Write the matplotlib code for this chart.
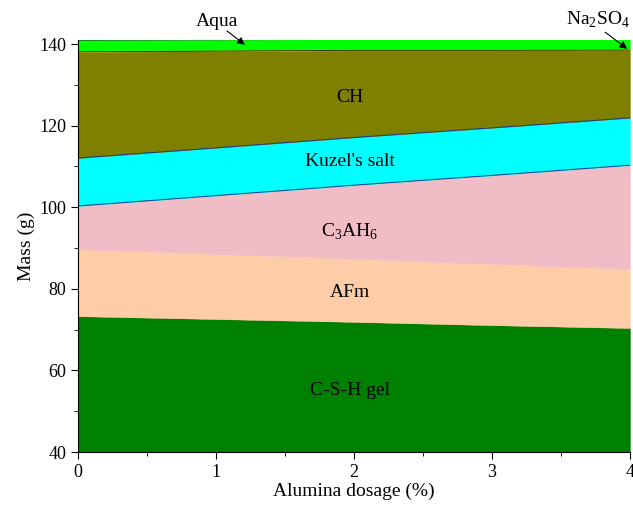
import numpy as np
import matplotlib
matplotlib.use("Agg")
import matplotlib.pyplot as plt
from matplotlib.ticker import MultipleLocator

plt.rcParams['font.family'] = ['Liberation Serif', 'DejaVu Serif']
plt.rcParams['mathtext.fontset'] = 'custom'
plt.rcParams['mathtext.rm'] = 'Liberation Serif'

# alumina dosage (%)
dosage = [0, 1, 2, 3, 4]

# phase masses (g), bottom to top
csh = [73.3, 72.6, 71.9, 71.1, 70.4]
afm = [16.45, 15.95, 15.5, 15.0, 14.5]
c3ah6 = [10.55, 14.3, 18.0, 21.7, 25.4]
kuzel = [11.75, 11.7, 11.7, 11.65, 11.6]
ch = [26.05, 23.7, 21.35, 19.0, 16.6]
na2so4 = [0.3, 0.3, 0.3, 0.3, 0.3]
aqua = [2.5, 2.45, 2.4, 2.35, 2.3]

layers = [csh, afm, c3ah6, kuzel, ch, na2so4, aqua]
colors = ['#008000', '#FFCCA8', '#F0BCC6', '#00FFFF', '#808000', '#E8D000', '#00FF00']
# boundary line on top of each layer (None = no line)
top_lines = [None, None, '#1a3a8a', '#1a3a8a', '#303010', None, '#007000']

fig = plt.figure(figsize=(6.33, 5.08), dpi=100)
ax = fig.add_axes([0.1232, 0.1102, 0.872, 0.8112])

bottom = np.zeros(len(dosage))
tops = []
for vals, c in zip(layers, colors):
    top = bottom + np.array(vals)
    ax.fill_between(dosage, bottom, top, facecolor=c, edgecolor=c, linewidth=0.3)
    tops.append(top)
    bottom = top
for top, lc in zip(tops, top_lines):
    if lc is not None:
        ax.plot(dosage, top, color=lc, linewidth=0.7)

ax.set_xlim(0, 4)
ax.set_ylim(40, 141)
ax.xaxis.set_major_locator(MultipleLocator(1))
ax.xaxis.set_minor_locator(MultipleLocator(0.5))
ax.yaxis.set_major_locator(MultipleLocator(20))
ax.yaxis.set_minor_locator(MultipleLocator(10))
ax.tick_params(which='both', direction='out', labelsize=13)
ax.tick_params(which='major', length=5)
ax.tick_params(which='minor', length=3)
ax.spines['top'].set_visible(False)
ax.spines['right'].set_visible(False)

ax.set_xlabel('Alumina dosage (%)', fontsize=14, labelpad=1)
ax.set_ylabel('Mass (g)', fontsize=14, labelpad=3)

fs = 14
ax.text(1.97, 127, 'CH', ha='center', va='center', fontsize=fs)
ax.text(1.97, 111.1, "Kuzel's salt", ha='center', va='center', fontsize=fs)
ax.text(1.97, 93.9, r'C$_3$AH$_6$', ha='center', va='center', fontsize=fs)
ax.text(1.97, 79, 'AFm', ha='center', va='center', fontsize=fs)
ax.text(1.97, 55.2, 'C-S-H gel', ha='center', va='center', fontsize=fs)

arrow = dict(arrowstyle='-|>', color='black', lw=0.8, shrinkA=0, shrinkB=0,
             mutation_scale=11)
ax.text(1.01, 145.6, 'Aqua', ha='center', va='center', fontsize=fs, clip_on=False)
ax.annotate('', xy=(1.21, 139.8), xytext=(1.08, 143.2), annotation_clip=False,
            arrowprops=arrow)
ax.text(3.77, 145.8, r'Na$_2$SO$_4$', ha='center', va='center', fontsize=fs, clip_on=False)
ax.annotate('', xy=(3.98, 138.8), xytext=(3.82, 142.9), annotation_clip=False,
            arrowprops=arrow)

fig.savefig('out.png', dpi=100)
